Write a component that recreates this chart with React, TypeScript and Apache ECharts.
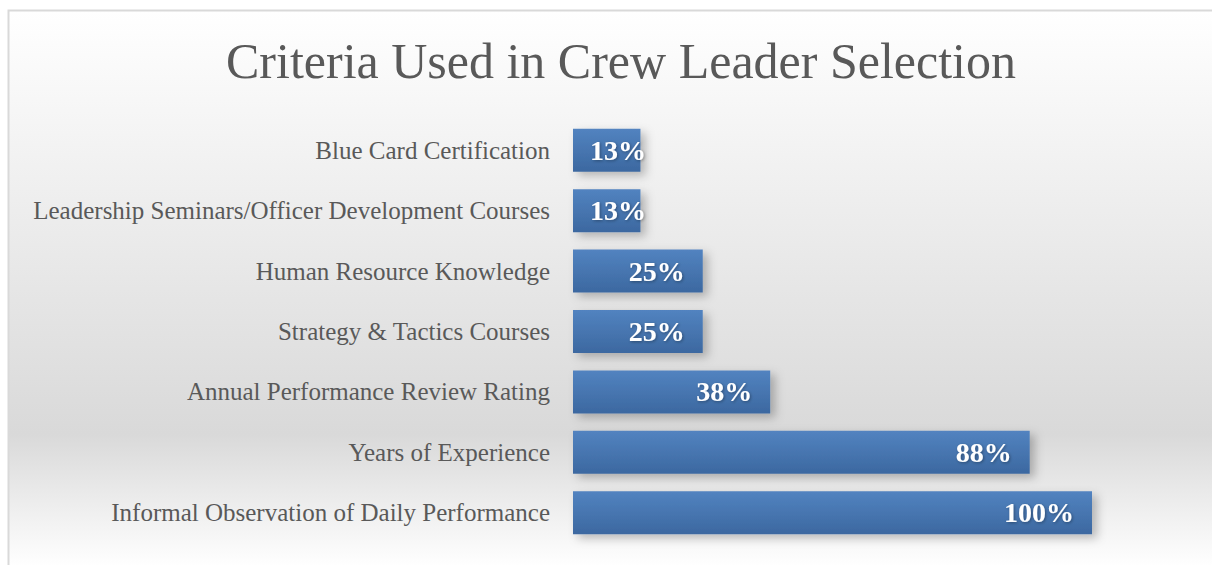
import React, { useEffect, useRef } from "react";
import * as echarts from "echarts";

const categories = [
  "Blue Card Certification",
  "Leadership Seminars/Officer Development Courses",
  "Human Resource Knowledge",
  "Strategy & Tactics Courses",
  "Annual Performance Review Rating",
  "Years of Experience",
  "Informal Observation of Daily Performance",
];
const values = [13, 13, 25, 25, 38, 88, 100];
const titleText = "Criteria Used in Crew Leader Selection";

const SERIF = "'Liberation Serif', serif";

export default function App() {
  const ref = useRef<HTMLDivElement>(null);
  useEffect(() => {
    if (!ref.current) return;
    const chart = echarts.init(ref.current, null, { renderer: "svg" });
    const data = values.map((v) =>
      v < 20
        ? { value: v, label: { position: "insideLeft", distance: 17 } }
        : { value: v }
    );
    chart.setOption({
      animation: false,
      graphic: [
        {
          type: "rect",
          z: -10,
          silent: true,
          shape: { x: 8.5, y: 10.5, width: 1260, height: 580 },
          style: {
            fill: new echarts.graphic.LinearGradient(0, 0, 0, 1, [
              { offset: 0, color: "#ffffff" },
              { offset: 0.73, color: "#d9d9d9" },
              { offset: 0.96, color: "#ffffff" },
              { offset: 1, color: "#ffffff" },
            ]),
            stroke: "#d9d9d9",
            lineWidth: 2,
          },
        },
      ],
      title: {
        text: titleText,
        left: 616,
        textAlign: "center",
        top: 31,
        textStyle: {
          fontFamily: SERIF,
          fontSize: 50,
          fontWeight: "normal",
          color: "#595959",
        },
      },
      grid: { left: 573, right: 120, top: 120, bottom: 22, containLabel: false },
      xAxis: {
        type: "value",
        min: 0,
        max: 100,
        show: false,
        splitLine: { show: false },
      },
      yAxis: {
        type: "category",
        data: categories,
        inverse: true,
        axisLine: { show: false },
        axisTick: { show: false },
        axisLabel: {
          margin: 23,
          fontFamily: SERIF,
          fontSize: 25,
          color: "#595959",
        },
      },
      series: [
        {
          type: "bar",
          data,
          barWidth: 43,
          itemStyle: {
            color: new echarts.graphic.LinearGradient(0, 0, 0, 1, [
              { offset: 0, color: "#5283c0" },
              { offset: 1, color: "#3c68a0" },
            ]),
            shadowColor: "rgba(0,0,0,0.25)",
            shadowBlur: 10,
            shadowOffsetX: 5,
            shadowOffsetY: 4,
          },
          label: {
            show: true,
            position: "insideRight",
            distance: 18,
            formatter: "{c}%",
            fontFamily: SERIF,
            fontSize: 28,
            fontWeight: "bold",
            color: "#ffffff",
            textShadowColor: "rgba(0,0,0,0.35)",
            textShadowBlur: 3,
            textShadowOffsetX: 1,
            textShadowOffsetY: 1,
          },
        },
      ],
    });
    return () => chart.dispose();
  }, []);
  return (
    <div
      ref={ref}
      style={{ position: "absolute", left: 0, top: 0, width: 1212, height: 565 }}
    />
  );
}
